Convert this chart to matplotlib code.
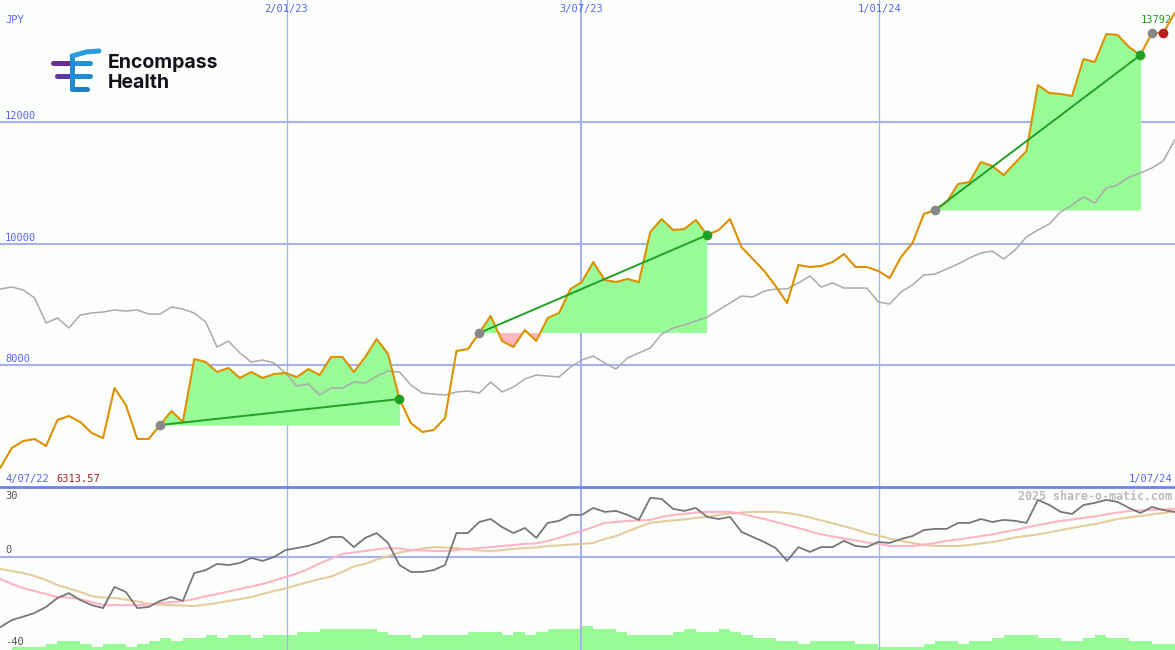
import matplotlib
matplotlib.use('Agg')
import matplotlib.pyplot as plt
import numpy as np

# weekly closes, JPY
price = [6313.57, 6634, 6749, 6782, 6667, 7095, 7161, 7062, 6881, 6798,
         7621, 7342, 6782, 6782, 7012, 7243, 7062, 8099, 8049, 7885,
         7951, 7786, 7885, 7786, 7852, 7868, 7802, 7934, 7835, 8132,
         8132, 7885, 8132, 8428, 8181, 7440, 7045, 6897, 6930, 7128,
         8230, 8263, 8527, 8807, 8395, 8296, 8576, 8395, 8774, 8856,
         9251, 9366, 9695, 9399, 9366, 9416, 9366, 10189, 10403, 10222,
         10239, 10387, 10140, 10222, 10403, 9942, 9745, 9547, 9300, 9021,
         9646, 9613, 9630, 9695, 9827, 9613, 9613, 9547, 9432, 9778,
         10008, 10485, 10551, 10683, 10979, 11012, 11341, 11276, 11127, 11325,
         11522, 12609, 12477, 12461, 12428, 13037, 12987, 13448, 13432, 13234,
         13103, 13465, 13465, 13792]

# comparison index (grey line)
compare = [9251, 9284, 9235, 9103, 8691, 8774, 8609, 8823, 8856, 8872,
           8905, 8889, 8905, 8839, 8839, 8955, 8922, 8856, 8708, 8296,
           8395, 8198, 8049, 8082, 8033, 7868, 7654, 7687, 7506, 7621,
           7621, 7720, 7704, 7819, 7901, 7885, 7671, 7539, 7523, 7506,
           7556, 7572, 7539, 7720, 7556, 7638, 7770, 7835, 7819, 7802,
           7967, 8082, 8148, 8033, 7934, 8115, 8198, 8280, 8510, 8609,
           8658, 8724, 8790, 8905, 9021, 9136, 9119, 9218, 9251, 9251,
           9350, 9465, 9284, 9350, 9267, 9267, 9267, 9037, 9004, 9202,
           9317, 9481, 9498, 9580, 9662, 9761, 9844, 9876, 9745, 9893,
           10107, 10222, 10321, 10518, 10634, 10765, 10667, 10913, 10963, 11094,
           11160, 11243, 11358, 11704]

# lower panel
momentum = [-30.4, -27.4, -25.9, -24.3, -21.7, -17.8, -15.7, -18.7, -20.9, -22.2,
            -13.0, -15.2, -22.2, -21.7, -19.1, -17.4, -19.1, -7.0, -5.7, -3.0,
            -3.5, -2.6, -0.4, -1.7, 0.0, 3.0, 3.9, 4.8, 6.5, 8.7,
            8.7, 4.3, 8.3, 10.4, 6.1, -3.5, -6.5, -6.5, -5.7, -3.5,
            10.4, 10.4, 15.2, 16.5, 13.0, 10.4, 12.6, 8.3, 14.8, 15.7,
            18.3, 18.3, 21.3, 19.6, 20.0, 18.3, 16.1, 25.7, 25.2, 20.9,
            20.0, 21.3, 17.4, 16.5, 17.4, 10.9, 8.7, 6.5, 3.9, -1.7,
            4.3, 2.2, 4.3, 4.3, 7.0, 4.8, 4.3, 6.5, 6.1, 7.8,
            9.1, 11.7, 12.2, 12.2, 14.8, 14.8, 16.5, 15.2, 16.1, 15.7,
            14.8, 24.8, 22.6, 19.6, 18.7, 22.6, 23.5, 24.8, 23.9, 21.3,
            19.1, 21.7, 20.4, 19.6]

avg_fast = [-9.6, -11.7, -13.5, -14.8, -16.1, -17.4, -17.6, -18.3, -19.6, -20.9,
            -20.9, -20.9, -20.9, -20.7, -20.0, -19.6, -19.1, -18.3, -17.0, -16.1,
            -15.0, -13.9, -12.8, -11.7, -10.2, -8.7, -7.2, -5.2, -2.8, -0.7,
            1.3, 2.0, 2.6, 3.3, 3.9, 3.7, 3.0, 2.8, 2.6, 2.6,
            3.0, 3.5, 3.9, 4.3, 4.8, 5.2, 5.7, 5.9, 7.0, 8.3,
            10.0, 11.3, 13.0, 14.8, 15.2, 15.7, 15.9, 16.1, 17.4, 18.3,
            18.7, 19.3, 19.6, 19.6, 19.6, 18.7, 17.6, 16.5, 15.2, 13.9,
            12.6, 11.1, 9.8, 8.9, 8.0, 7.2, 6.3, 5.7, 4.8, 4.8,
            4.8, 5.4, 6.1, 7.0, 7.6, 8.3, 9.1, 9.8, 10.9, 11.7,
            12.8, 13.9, 14.8, 15.7, 16.3, 17.0, 17.6, 18.5, 19.3, 20.0,
            20.2, 20.4, 20.7, 20.9]

avg_slow = [-5.2, -6.1, -7.0, -8.3, -10.0, -12.2, -13.7, -15.2, -17.0, -17.6,
            -17.8, -18.5, -19.3, -20.4, -20.7, -20.9, -21.1, -21.3, -20.7, -20.0,
            -19.1, -18.3, -17.4, -16.1, -14.8, -13.7, -12.2, -10.9, -9.6, -8.5,
            -6.5, -4.1, -3.0, -1.1, 0.4, 2.0, 2.8, 3.7, 4.3, 4.1,
            3.9, 3.3, 2.8, 2.6, 3.0, 3.5, 3.9, 4.1, 4.8, 5.0,
            5.4, 5.7, 6.1, 7.8, 9.1, 11.1, 13.0, 14.8, 15.4, 15.9,
            16.3, 17.0, 17.4, 18.3, 18.9, 19.3, 19.6, 19.6, 19.6, 19.1,
            18.3, 17.2, 15.9, 14.6, 13.3, 12.0, 10.4, 9.3, 8.0, 7.0,
            6.1, 5.2, 4.8, 4.8, 4.8, 5.2, 5.9, 6.5, 7.4, 8.5,
            9.1, 9.8, 10.7, 11.7, 12.6, 13.5, 14.3, 15.4, 16.5, 17.2,
            17.8, 18.5, 19.1, 19.6]

volume = [0, 1, 1, 1, 2, 3, 3, 2, 1, 2,
          2, 1, 2, 3, 4, 3, 4, 4, 5, 4,
          5, 5, 4, 5, 5, 5, 6, 6, 7, 7,
          7, 7, 7, 6, 5, 5, 4, 5, 5, 5,
          5, 6, 6, 6, 5, 6, 5, 6, 7, 7,
          7, 8, 7, 7, 6, 5, 5, 5, 5, 6,
          7, 6, 6, 7, 6, 5, 4, 4, 3, 3,
          2, 3, 3, 3, 3, 2, 2, 1, 1, 1,
          1, 2, 3, 3, 2, 3, 3, 4, 5, 5,
          5, 4, 4, 3, 3, 4, 5, 4, 4, 3,
          3, 2, 2, 2]

trades = [(14, 35), (42, 62), (82, 100)]   # (entry week, exit week)
open_entry, last_week = 101, 102

date_labels = ['2/01/23', '3/07/23', '1/01/24']
date_pos = [25.1, 50.9, 77.1]
price_ticks = [8000, 10000, 12000]

BG = '#fcfefc'
GRID = '#a4b2ee'
LABEL = '#5566ee'
GREEN_FILL = '#98fb98'
MONO = 'DejaVu Sans Mono'
FS = 7.5

weeks = np.arange(len(price))
price = np.array(price)

fig = plt.figure(figsize=(11.75, 6.5), dpi=100, facecolor=BG)
ax = fig.add_axes([0, 163 / 650, 1, 487 / 650], facecolor=BG)
ax2 = fig.add_axes([0, 0, 1, 163 / 650], facecolor=BG)

for a in (ax, ax2):
    a.set_xlim(-0.04, 103.03)
    a.set_xticks([])
    a.set_yticks([])
    for s in a.spines.values():
        s.set_visible(False)
    for p, lab in zip(date_pos, date_labels):
        a.axvline(p, color=GRID, lw=1.5 if lab.startswith('3/07') else 0.9, zorder=0)

# ---- main panel
ax.set_ylim(5992, 14008)
for t in price_ticks:
    ax.axhline(t, color=GRID, lw=1.5, zorder=0)
    ax.annotate(str(t), xy=(0, t), xycoords=('axes fraction', 'data'), xytext=(5, 6),
                textcoords='offset pixels', color=LABEL, fontsize=FS, family=MONO, va='center')

ax.plot(weeks, compare, color='#aaaaaa', lw=1.1, zorder=3)

for a_i, b_i in trades:
    xs = weeks[a_i:b_i + 1]
    ys = price[a_i:b_i + 1]
    base = price[a_i]
    ax.fill_between(xs, ys, base, where=ys >= base, interpolate=True, color=GREEN_FILL, lw=0, zorder=1)
    ax.fill_between(xs, ys, base, where=ys < base, interpolate=True, color='#ffb6c1', lw=0, zorder=1)

ax.plot(weeks, price, color='#dd9000', lw=1.5, zorder=4)

for a_i, b_i in trades:
    ax.plot([a_i, b_i], [price[a_i], price[b_i]], color='#22a022', lw=1.4, zorder=5)
    ax.plot(a_i, price[a_i], 'o', color='#888888', ms=7, mec='none', zorder=6)
    ax.plot(b_i, price[b_i], 'o', color='#22a022', ms=7, mec='none', zorder=6)
ax.plot(open_entry, price[open_entry], 'o', color='#888888', ms=7, mec='none', zorder=6)
ax.plot(last_week, price[last_week], 'o', color='#bb2020', ms=7, mec='none', zorder=6)

for p, lab in zip(date_pos, date_labels):
    ax.annotate(lab, xy=(p, 1), xycoords=('data', 'axes fraction'), xytext=(0, -9),
                textcoords='offset pixels', color=LABEL, fontsize=FS, family=MONO,
                ha='center', va='center')

ax.annotate('JPY', xy=(0, 1), xycoords='axes fraction', xytext=(5, -20), textcoords='offset pixels',
            color=LABEL, fontsize=FS, family=MONO, va='center')
ax.annotate('4/07/22', xy=(0, 0), xycoords='axes fraction', xytext=(5, 8), textcoords='offset pixels',
            color=LABEL, fontsize=FS, family=MONO, va='center')
ax.annotate(f'{price[0]:.2f}', xy=(0, 0), xycoords='axes fraction', xytext=(56, 8), textcoords='offset pixels',
            color='#aa2222', fontsize=FS, family=MONO, va='center')
ax.annotate('1/07/24', xy=(1, 0), xycoords='axes fraction', xytext=(-3, 8), textcoords='offset pixels',
            color=LABEL, fontsize=FS, family=MONO, va='center', ha='right')
ax.annotate(f'{price[-1]:.0f}', xy=(1, 1), xycoords='axes fraction', xytext=(-3, -20), textcoords='offset pixels',
            color='#229922', fontsize=FS, family=MONO, va='center', ha='right')

# logo, drawn in pixel coords
ov = fig.add_axes([0, 0, 1, 1], facecolor='none')
ov.set_xlim(0, 1175)
ov.set_ylim(650, 0)
ov.axis('off')
kw = dict(lw=3.6, solid_capstyle='round')
ov.plot([53, 72], [63, 63], color='#6b2d92', **kw)
ov.plot([57, 72], [76, 76], color='#5a3aa6', **kw)
ov.plot([72, 90], [63, 63], color='#2393d6', **kw)
ov.plot([72, 90], [76, 76], color='#1e8bd3', **kw)
ov.plot([72, 87], [89, 89], color='#1a80cc', **kw)
ov.plot([72, 72], [56, 89], color='#1e8bd3', **kw)
ov.plot([72, 86, 99], [56, 52, 51], color='#2a9de0', **kw)
ov.text(108, 63, 'Encompass', fontsize=14, fontweight='bold', family='Inter', color='#15101a', va='center')
ov.text(108, 83, 'Health', fontsize=14, fontweight='bold', family='Inter', color='#15101a', va='center')

# ---- lower panel
ax2.set_ylim(-40.4, 30.4)
ax2.axhline(0, color=GRID, lw=1.5, zorder=0)
ax2.spines['top'].set_visible(True)
ax2.spines['top'].set_color('#7082ee')
ax2.spines['top'].set_linewidth(2.0)

vol = ax2.twinx()
vol.set_ylim(0, 54.3)
vol.set_yticks([])
for s in vol.spines.values():
    s.set_visible(False)
vol.bar(weeks, volume, width=1, align='edge', color=GREEN_FILL, lw=0, zorder=1)

ax2.set_zorder(vol.get_zorder() + 1)
ax2.patch.set_visible(False)
vol.patch.set_facecolor(BG)
vol.patch.set_visible(True)
ax2.plot(weeks, avg_slow, color='#e6cc9c', lw=1.5)
ax2.plot(weeks, avg_fast, color='#ffb3c6', lw=1.5)
ax2.plot(weeks, momentum, color='#777777', lw=1.3)

for val, dy in [(30, -8), (0, 7), (-40, 7)]:
    ax2.annotate(str(val), xy=(0, val), xycoords=('axes fraction', 'data'), xytext=(5, dy),
                 textcoords='offset pixels', color='#555555', fontsize=FS, family=MONO, va='center')
ax2.annotate('2025 share-o-matic.com', xy=(1, 1), xycoords='axes fraction', xytext=(-3, -9),
             textcoords='offset pixels', color='#bbbbbb', fontsize=8.4, fontweight='bold',
             family=MONO, va='center', ha='right')

fig.savefig('out.png', dpi=100, facecolor=BG)
